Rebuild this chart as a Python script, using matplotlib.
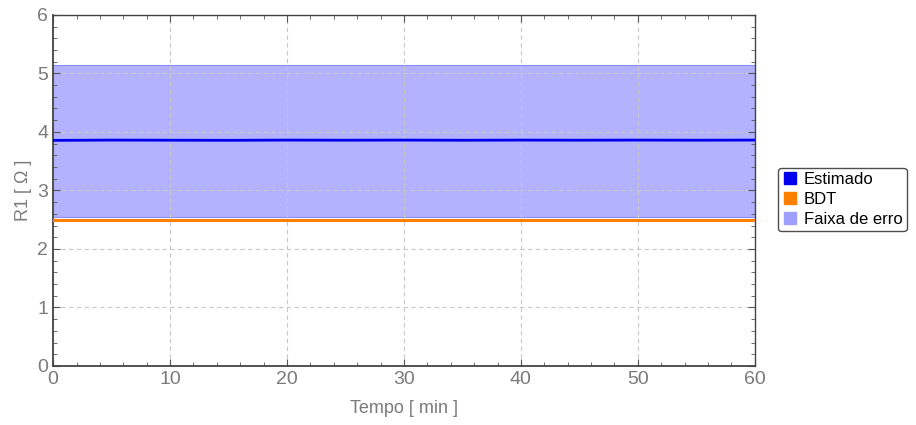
import matplotlib
matplotlib.use("Agg")
import matplotlib.pyplot as plt
from matplotlib.lines import Line2D
from matplotlib.ticker import MultipleLocator

plt.rcParams["font.family"] = ["Liberation Sans", "DejaVu Sans"]

# time points [min] and values
tempo = [0, 5, 10, 15, 20, 25, 30, 35, 40, 45, 50, 55, 60]
estimado = [3.855, 3.86, 3.858, 3.856, 3.86, 3.858, 3.86, 3.857, 3.86, 3.858, 3.86, 3.858, 3.86]
bdt = [2.50] * 13
faixa_inf = [2.55] * 13
faixa_sup = [5.15] * 13

azul = "#0000ee"
laranja = "#ff7f00"
faixa = "#b2b2ff"
cinza = "#7a7a7a"

fig = plt.figure(figsize=(9.16, 4.25), dpi=100)
ax = fig.add_axes([0.058, 0.139, 0.766, 0.826])

ax.fill_between(tempo, faixa_inf, faixa_sup, color=faixa, edgecolor="#8c8cff", linewidth=0.8, zorder=1)
ax.plot(tempo, bdt, color=laranja, linewidth=2.2, zorder=3)
ax.plot(tempo, estimado, color=azul, linewidth=2.0, zorder=4)

ax.set_xlim(0, 60)
ax.set_ylim(0, 6)
ax.xaxis.set_major_locator(MultipleLocator(10))
ax.xaxis.set_minor_locator(MultipleLocator(2))
ax.yaxis.set_major_locator(MultipleLocator(1))
ax.yaxis.set_minor_locator(MultipleLocator(0.2))
ax.tick_params(which="both", direction="in", top=True, right=True, colors="#555555",
               labelcolor=cinza, labelsize=14)
ax.tick_params(which="major", length=5)
ax.tick_params(which="minor", length=3)
ax.grid(True, which="major", color="#c8c8c8", linestyle=(0, (4, 3)), linewidth=0.8, zorder=2)
for s in ax.spines.values():
    s.set_color("#444444")
    s.set_linewidth(1.0)
ax.spines["left"].set_linewidth(1.3)
ax.spines["bottom"].set_linewidth(1.3)

ax.set_xlabel("Tempo [ min ]", color=cinza, fontsize=13, labelpad=9)
ax.set_ylabel("R1 [ Ω ]", color=cinza, fontsize=13, labelpad=4)

handles = [
    Line2D([], [], marker="s", linestyle="none", color=azul, markersize=8),
    Line2D([], [], marker="s", linestyle="none", color=laranja, markersize=8),
    Line2D([], [], marker="s", linestyle="none", color="#9f9fff", markersize=8),
]
leg = fig.legend(handles, ["Estimado", "BDT", "Faixa de erro"], loc="center left",
                 bbox_to_anchor=(0.84, 0.53), frameon=True, fancybox=True,
                 edgecolor="#222222", fontsize=12, handletextpad=0.3, handlelength=1.0,
                 borderpad=0.25, labelspacing=0.3)
leg.get_frame().set_linewidth(1.0)

fig.savefig("out.png", dpi=100)
